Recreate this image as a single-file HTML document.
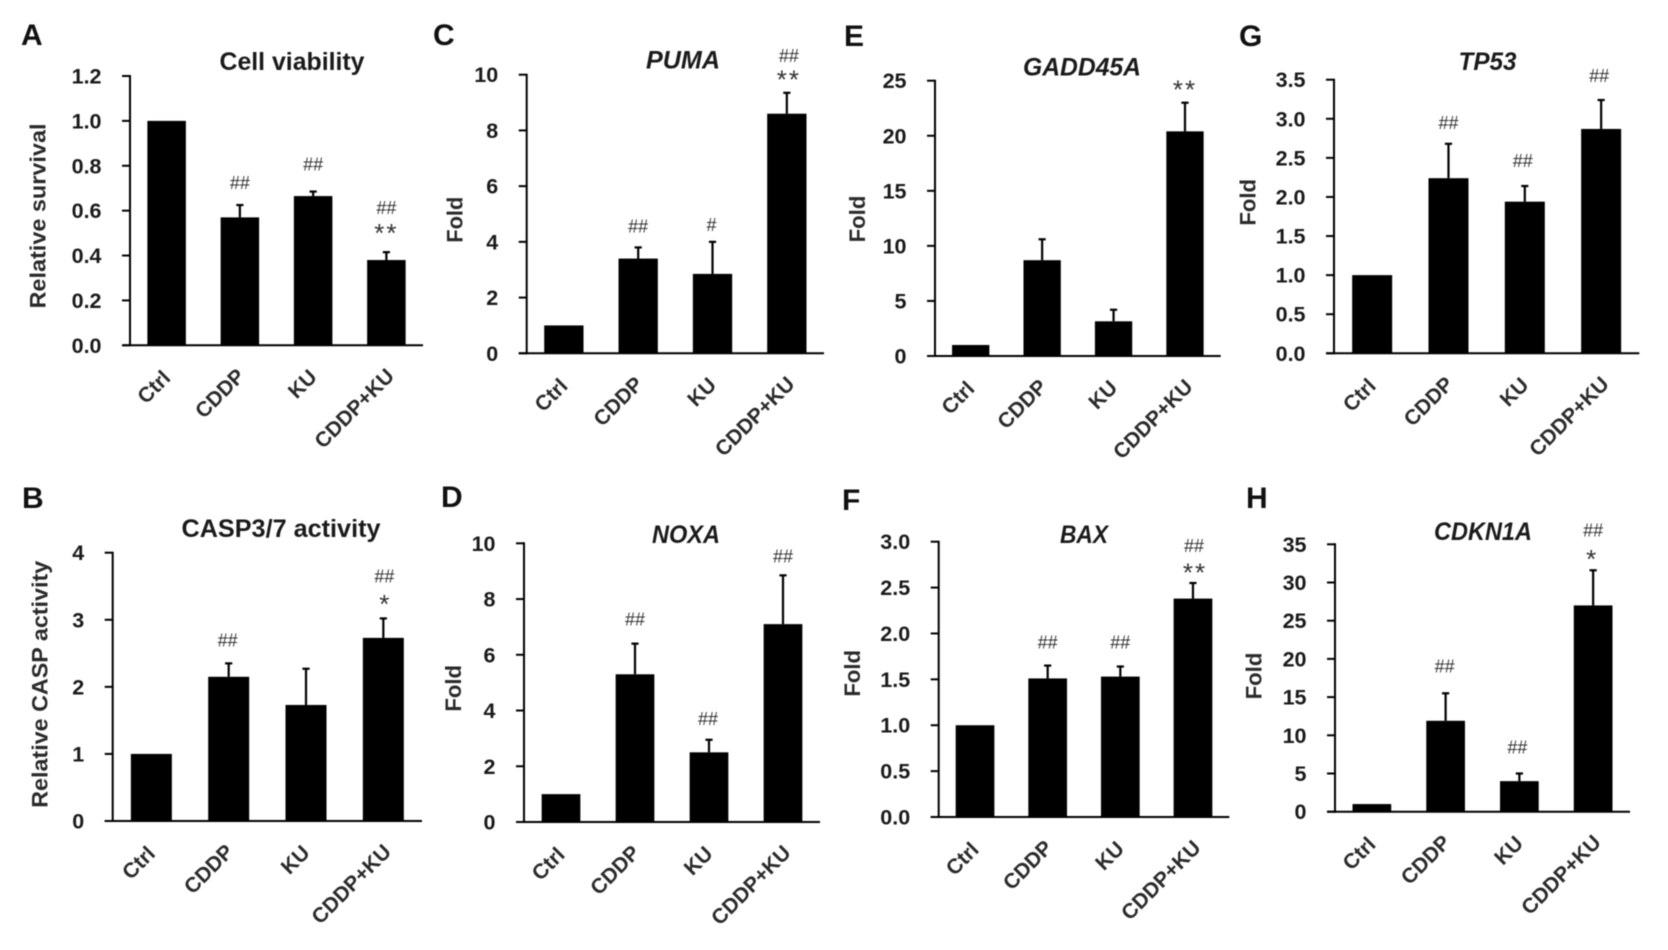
<!DOCTYPE html>
<html lang="en">
<head>
<meta charset="utf-8">
<title>Cell viability, CASP activity and gene expression panels</title>
<style>
html,body{margin:0;padding:0;background:#fff;width:1668px;height:950px;overflow:hidden}
#figure{display:block;filter:blur(0.6px)}
text{font-family:"Liberation Sans",sans-serif;fill:#1a1a1a}
.tick,.cat,.ytitle,.title{font-weight:bold}
.letter{font-weight:bold;font-size:30px;fill:#111}
.tick{font-size:21.5px}
.cat{font-size:21px;fill:#2a2a2a}
.ytitle{font-size:22px;fill:#2a2a2a}
.title{font-size:25px}
.hash{font-size:18px;fill:#333}
.star{font-size:26px;fill:#333}
</style>
</head>
<body>
<svg id="figure" xmlns="http://www.w3.org/2000/svg" width="1668" height="950" viewBox="0 0 1668 950"></svg>
<script>
// ---- chart data ----
const categories = ['Ctrl', 'CDDP', 'KU', 'CDDP+KU'];

const viabilityValues = [1, 0.57, 0.665, 0.38];
const viabilityErrors = [0, 0.055, 0.02, 0.035];
const viabilityTicks = ['0.0', '0.2', '0.4', '0.6', '0.8', '1.0', '1.2'];

const caspValues = [1, 2.15, 1.73, 2.73];
const caspErrors = [0, 0.2, 0.54, 0.29];
const caspTicks = ['0', '1', '2', '3', '4'];

const pumaValues = [1, 3.4, 2.85, 8.6];
const pumaErrors = [0, 0.4, 1.15, 0.75];
const pumaTicks = ['0', '2', '4', '6', '8', '10'];

const noxaValues = [1, 5.3, 2.5, 7.1];
const noxaErrors = [0, 1.1, 0.45, 1.75];
const noxaTicks = ['0', '2', '4', '6', '8', '10'];

const gaddValues = [1, 8.7, 3.15, 20.4];
const gaddErrors = [0, 1.9, 1.05, 2.6];
const gaddTicks = ['0', '5', '10', '15', '20', '25'];

const baxValues = [1, 1.51, 1.53, 2.38];
const baxErrors = [0, 0.14, 0.11, 0.17];
const baxTicks = ['0.0', '0.5', '1.0', '1.5', '2.0', '2.5', '3.0'];

const tp53Values = [1, 2.24, 1.94, 2.87];
const tp53Errors = [0, 0.44, 0.2, 0.37];
const tp53Ticks = ['0.0', '0.5', '1.0', '1.5', '2.0', '2.5', '3.0', '3.5'];

const cdkn1aValues = [1, 11.9, 4, 27];
const cdkn1aErrors = [0, 3.6, 1, 4.6];
const cdkn1aTicks = ['0', '5', '10', '15', '20', '25', '30', '35'];

// ---- panel layout ----
const panels = [
  {id:'a', letter:'A', lx:21, ly:45, title:'Cell viability', italic:false, tx:292, ty:70, tw:145,
   yTitle:'Relative survival', yx:45.7, yy:216, yw:185,
   left:130, right:423, top:76, base:345.3, barW:38.5,
   values:viabilityValues, errors:viabilityErrors, ticks:viabilityTicks,
   notes:[{bar:1,t:'##',gap:22,dx:0},{bar:2,t:'##',gap:27,dx:0},{bar:3,t:'##',gap:44,dx:0},{bar:3,t:'**',gap:22,dx:0}]},
  {id:'b', letter:'B', lx:22, ly:508, title:'CASP3/7 activity', italic:false, tx:281, ty:537, tw:199,
   yTitle:'Relative CASP activity', yx:47.7, yy:684.3, yw:247,
   left:112.7, right:422, top:552.7, base:821, barW:41,
   values:caspValues, errors:caspErrors, ticks:caspTicks,
   notes:[{bar:1,t:'##',gap:23,dx:-1},{bar:3,t:'##',gap:42,dx:1},{bar:3,t:'*',gap:17,dx:2}]},
  {id:'c', letter:'C', lx:433, ly:45, title:'PUMA', italic:true, tx:683, ty:68.3, tw:74,
   yTitle:'Fold', yx:462.7, yy:219.7, yw:46,
   left:526.7, right:824, top:74.7, base:353.3, barW:39.3,
   values:pumaValues, errors:pumaErrors, ticks:pumaTicks,
   notes:[{bar:1,t:'##',gap:21,dx:0},{bar:2,t:'#',gap:17,dx:-1},{bar:3,t:'##',gap:37,dx:2},{bar:3,t:'**',gap:16,dx:2}]},
  {id:'d', letter:'D', lx:441, ly:507, title:'NOXA', italic:true, tx:686, ty:543, tw:68,
   yTitle:'Fold', yx:461, yy:688.3, yw:46.7,
   left:524, right:820, top:543.3, base:822, barW:38.7,
   values:noxaValues, errors:noxaErrors, ticks:noxaTicks,
   notes:[{bar:1,t:'##',gap:24,dx:0},{bar:2,t:'##',gap:21,dx:-1},{bar:3,t:'##',gap:19,dx:0}]},
  {id:'e', letter:'E', lx:844, ly:46, title:'GADD45A', italic:true, tx:1082, ty:75.3, tw:118,
   yTitle:'Fold', yx:865, yy:219, yw:46.7,
   left:935, right:1220.7, top:80.7, base:356, barW:37.3,
   values:gaddValues, errors:gaddErrors, ticks:gaddTicks,
   notes:[{bar:3,t:'**',gap:16,dx:0}]},
  {id:'f', letter:'F', lx:842, ly:510, title:'BAX', italic:true, tx:1084, ty:543, tw:48,
   yTitle:'Fold', yx:860, yy:673.3, yw:46.7,
   left:938.7, right:1229.3, top:541.7, base:817, barW:38.7,
   values:baxValues, errors:baxErrors, ticks:baxTicks,
   notes:[{bar:1,t:'##',gap:23,dx:0},{bar:2,t:'##',gap:24,dx:0},{bar:3,t:'##',gap:37,dx:1},{bar:3,t:'**',gap:13,dx:2}]},
  {id:'g', letter:'G', lx:1239, ly:46, title:'TP53', italic:true, tx:1487.5, ty:70, tw:58,
   yTitle:'Fold', yx:1255.7, yy:202.3, yw:46.7,
   left:1334, right:1639.3, top:79.7, base:353.3, barW:40,
   values:tp53Values, errors:tp53Errors, ticks:tp53Ticks,
   notes:[{bar:1,t:'##',gap:21,dx:0},{bar:2,t:'##',gap:25,dx:-2},{bar:3,t:'##',gap:24,dx:-2}]},
  {id:'h', letter:'H', lx:1246, ly:508, title:'CDKN1A', italic:true, tx:1483, ty:540, tw:98,
   yTitle:'Fold', yx:1261.7, yy:676, yw:46.7,
   left:1335, right:1630, top:544.3, base:811.7, barW:38.7,
   values:cdkn1aValues, errors:cdkn1aErrors, ticks:cdkn1aTicks,
   notes:[{bar:1,t:'##',gap:27,dx:-1},{bar:2,t:'##',gap:26,dx:-2},{bar:3,t:'##',gap:40,dx:0},{bar:3,t:'*',gap:14,dx:-1}]}
];
const labelShiftX = [5, 6, 5, 9];
const labelShiftY = [34, 32, 33, 32];

// ---- drawing ----
const NS = 'http://www.w3.org/2000/svg';
const root = document.getElementById('figure');

function make(tag, attrs, parent, text) {
  const el = document.createElementNS(NS, tag);
  for (const k in attrs) el.setAttribute(k, attrs[k]);
  if (text !== undefined) el.textContent = text;
  parent.appendChild(el);
  return el;
}

function drawPanel(p) {
  const yMax = parseFloat(p.ticks[p.ticks.length - 1]);
  const yScale = v => p.base - (v / yMax) * (p.base - p.top);
  const step = (p.right - p.left) / categories.length;
  const xScale = i => p.left + step * (i + 0.5);

  const g = make('g', {}, root);
  
  

  const letter = make('text', {x: p.lx, y: p.ly, class: 'letter'}, g, p.letter);
  
  

  const title = make('text', {x: p.tx, y: p.ty, class: 'title', 'text-anchor': 'middle',
    'font-style': p.italic ? 'italic' : 'normal', textLength: p.tw, lengthAdjust: 'spacingAndGlyphs'}, g, p.title);
  
  

  const yTitle = make('text', {class: 'ytitle', 'text-anchor': 'middle', textLength: p.yw, lengthAdjust: 'spacingAndGlyphs',
    transform: 'translate(' + p.yx + ' ' + p.yy + ') rotate(-90)'}, g, p.yTitle);
  
  

  p.values.forEach((v, i) => {
    const cx = xScale(i);
    const bar = make('rect', {x: cx - p.barW / 2, y: yScale(v), width: p.barW, height: p.base - yScale(v), fill: '#000'}, g);
    
    

    if (p.errors[i] > 0) {
      const errTop = yScale(v + p.errors[i]);
      const stem = make('line', {x1: cx, x2: cx, y1: yScale(v), y2: errTop, stroke: '#000', 'stroke-width': 2.2}, g);
      
      
      const cap = make('line', {x1: cx - 3.6, x2: cx + 3.6, y1: errTop, y2: errTop, stroke: '#000', 'stroke-width': 2.2}, g);
      
      
    }
  });

  p.notes.forEach(n => {
    const cx = xScale(n.bar) + n.dx;
    const cy = yScale(p.values[n.bar] + p.errors[n.bar]) - n.gap;
    const isStar = n.t.charAt(0) === '*';
    const note = make('text', {x: cx, y: isStar ? cy + 11.7 : cy + 6, class: isStar ? 'star' : 'hash', 'text-anchor': 'middle',
      'letter-spacing': isStar ? 2 : 0}, g, n.t);
    
    
  });

  const yAxis = make('line', {x1: p.left, x2: p.left, y1: p.top - 1, y2: p.base + 1, stroke: '#000', 'stroke-width': 2}, g);
  
  

  const xAxis = make('line', {x1: p.left - 8, x2: p.right, y1: p.base, y2: p.base, stroke: '#000', 'stroke-width': 2}, g);
  
  

  p.ticks.forEach(label => {
    const ty = yScale(parseFloat(label));
    const tick = make('line', {x1: p.left - 8, x2: p.left, y1: ty, y2: ty, stroke: '#000', 'stroke-width': 2}, g);
    
    
    const tl = make('text', {x: p.left - 28.5, y: ty + 7.5, class: 'tick', 'text-anchor': 'end'}, g, label);
    
    
  });

  categories.forEach((c, i) => {
    const ax = xScale(i) + labelShiftX[i];
    const ay = p.base + labelShiftY[i];
    const cat = make('text', {class: 'cat', 'text-anchor': 'end', transform: 'translate(' + ax + ' ' + ay + ') rotate(-45)'}, g, c);
    
    
  });
}

panels.forEach(drawPanel);
</script>
</body>
</html>
